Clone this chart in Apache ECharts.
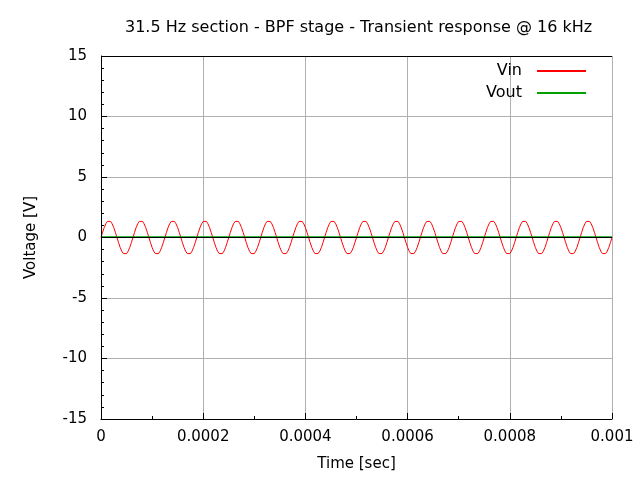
<!DOCTYPE html>
<html>
<head>
<meta charset="utf-8">
<script src="https://cdn.jsdelivr.net/npm/echarts@6/dist/echarts.min.js"></script>
<style>html,body{margin:0;padding:0;background:#fff}#c{width:640px;height:480px}</style>
</head>
<body>
<div id="c"></div>
<script>
// one period of each signal (16 kHz, 20 samples per period)
var vinPeriod = [0, 0.43, 0.82, 1.13, 1.33, 1.4, 1.33, 1.13, 0.82, 0.43,
  0, -0.43, -0.82, -1.13, -1.33, -1.4, -1.33, -1.13, -0.82, -0.43];
var voutPeriod = [0.05, 0.05, 0.05, 0.05, 0.05, 0.05, 0.05, 0.05, 0.05, 0.05,
  0.05, 0.05, 0.05, 0.05, 0.05, 0.05, 0.05, 0.05, 0.05, 0.05];
var cycles = 16;
var period = 0.0000625;
var yTicks = [-15, -10, -5, 0, 5, 10, 15];

function build(samples) {
  var out = [];
  var step = period / samples.length;
  for (var c = 0; c < cycles; c++) {
    for (var i = 0; i < samples.length; i++) {
      out.push([(c * samples.length + i) * step, samples[i]]);
    }
  }
  out.push([cycles * period, samples[0]]);
  return out;
}

var font = 'DejaVu Sans';
var chart = echarts.init(document.getElementById('c'));
chart.setOption({
  animation: false,
  title: {
    text: '31.5 Hz section - BPF stage - Transient response @ 16 kHz',
    left: 120, top: 15,
    textStyle: { fontFamily: font, fontSize: 16, fontWeight: 'normal', color: '#000' }
  },
  legend: {
    right: 49, top: 58, orient: 'vertical', align: 'right',
    itemWidth: 49, itemHeight: 2, itemGap: 6,
    icon: 'rect',
    textStyle: { fontFamily: font, fontSize: 16, color: '#000', padding: [0, 10, 0, 0] },
    data: ['Vin', 'Vout']
  },
  grid: { left: 101, right: 28, top: 56, bottom: 61 },
  xAxis: {
    type: 'value', min: 0, max: 0.001, interval: 0.0002,
    name: 'Time [sec]', nameLocation: 'middle', nameGap: 38,
    nameTextStyle: { fontFamily: font, fontSize: 15, color: '#000' },
    axisLine: { onZero: false, lineStyle: { color: '#000' } },
    axisTick: { inside: true, length: 6, lineStyle: { color: '#000' } },
    minorTick: { show: true, splitNumber: 2, length: 3, lineStyle: { color: '#000' } },
    axisLabel: {
      fontFamily: font, fontSize: 15, color: '#000', margin: 11,
      formatter: function (v) { return v === 0 ? '0' : String(parseFloat(v.toFixed(4))); }
    },
    splitLine: { show: true, lineStyle: { color: '#b0b0b0' } }
  },
  yAxis: {
    type: 'value', min: yTicks[0], max: yTicks[yTicks.length - 1], interval: 5,
    name: 'Voltage [V]', nameLocation: 'middle', nameGap: 62,
    nameTextStyle: { fontFamily: font, fontSize: 15, color: '#000' },
    axisLine: { show: true, lineStyle: { color: '#000' } },
    axisTick: { inside: true, length: 6, lineStyle: { color: '#000' } },
    minorTick: { show: true, splitNumber: 5, length: 3, lineStyle: { color: '#000' } },
    axisLabel: { fontFamily: font, fontSize: 15, color: '#000', margin: 14 },
    splitLine: { show: true, lineStyle: { color: '#b0b0b0' } }
  },
  series: [
    {
      name: 'Vin', type: 'line', showSymbol: false, symbol: 'none',
      data: build(vinPeriod),
      lineStyle: { color: '#ff0000', width: 1 }, itemStyle: { color: '#ff0000' },
      markLine: {
        silent: true, symbol: 'none', label: { show: false },
        lineStyle: { color: '#000', type: 'solid', width: 1 },
        data: [{ yAxis: 0 }]
      }
    },
    {
      name: 'Vout', type: 'line', showSymbol: false, symbol: 'none',
      data: build(voutPeriod),
      lineStyle: { color: '#00a000', width: 1.5 }, itemStyle: { color: '#00a000' }
    },
    {
      // top and right border of the plot frame
      type: 'line', silent: true, symbol: 'none', data: [],
      markLine: {
        silent: true, symbol: 'none', label: { show: false },
        lineStyle: { color: '#000', type: 'solid', width: 1 },
        data: [{ yAxis: 15 }, { xAxis: 0.001 }]
      }
    }
  ]
});
</script>
</body>
</html>
